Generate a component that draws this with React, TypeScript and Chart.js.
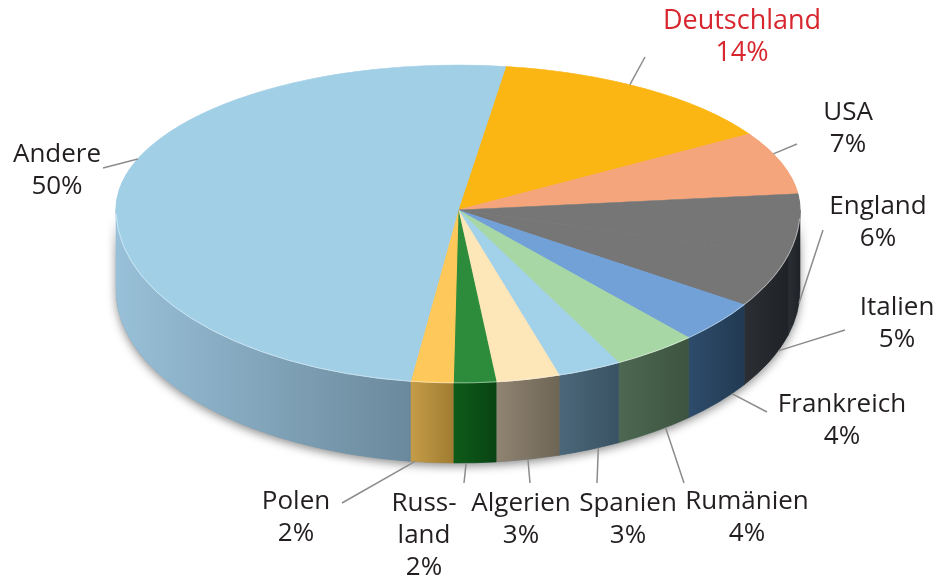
import React, { useEffect, useRef } from 'react';
import { Chart, registerables } from 'chart.js';

Chart.register(...registerables);

// ---------- data ----------
const categories = ['Deutschland', 'USA', 'England', 'Italien', 'Frankreich', 'Rumänien', 'Spanien', 'Algerien', 'Russland', 'Polen', 'Andere'];
const nameLines = [['Deutschland'], ['USA'], ['England'], ['Italien'], ['Frankreich'], ['Rumänien'], ['Spanien'], ['Algerien'], ['Russ-', 'land'], ['Polen'], ['Andere']];
const shares = [14, 7, 6, 5, 4, 4, 3, 3, 2, 2, 50];

// ---------- styles ----------
const topColors = ['#fbb614', '#f5a57b', '#767676', '#767676', '#72a1d8', '#a8d7a6', '#a2d1ea', '#fde6b8', '#2d8c3c', '#fec95a', '#a1cfe6'];
const sideLight = ['#b07e10', '#b0725a', '#2b2f34', '#2b2f34', '#2e4c6c', '#4d6852', '#4b6779', '#908472', '#0e5c19', '#c69c47', '#98c0d8'];
const sideDark = ['#8a630c', '#8a5846', '#1f2226', '#1f2226', '#223a52', '#3c5440', '#3a5364', '#6e6555', '#094313', '#a07d32', '#6b899c'];
const labelColors = ['#d7262e', '#231f20', '#231f20', '#231f20', '#231f20', '#231f20', '#231f20', '#231f20', '#231f20', '#231f20', '#231f20'];

// ---------- layout ----------
const W = 938;
const H = 583;
const PIE = { cx: 458, cy: 210, rx: 342, ryTop: 145, ryBottom: 173, depth: 80 };
const ROTATION = 8;
const LINE_H = 32;
// text centre (first line) and leader-line end, plus where along the slice the leader starts
const labelLayout = [
  { x: 742, y: 21, ex: 645, ey: 57, f: 0.44, size: 27 },
  { x: 848, y: 113, ex: 797, ey: 144, f: 0.35, size: 26 },
  { x: 878, y: 207, ex: 823, ey: 230, f: 0.5, size: 26 },
  { x: 897, y: 308, ex: 845, ey: 330, f: 0.3, size: 26 },
  { x: 842, y: 405, ex: 767, ey: 412, f: 0.25, size: 26 },
  { x: 747, y: 502, ex: 684, ey: 483, f: 0.35, size: 26 },
  { x: 628, y: 504, ex: 597, ey: 483, f: 0.35, size: 26 },
  { x: 521, y: 504, ex: 530, ey: 483, f: 0.5, size: 26 },
  { x: 424, y: 504, ex: 464, ey: 483, f: 0.7, size: 26 },
  { x: 296, y: 502, ex: 342, ey: 503, f: 0.9, size: 26 },
  { x: 57, y: 155, ex: 103, ey: 168, f: 0.57, size: 26 },
];

const FONT = '"Open Sans", "Noto Sans", sans-serif';

const pie3d = {
  id: 'pie3d',
  beforeDatasetsDraw(chart: any) {
    const ctx: CanvasRenderingContext2D = chart.ctx;
    const meta = chart.getDatasetMeta(0);
    const arcs = meta.data;
    const { cx, cy, rx, ryBottom, ryTop, depth } = PIE;

    // shadow silhouette of the side wall
    ctx.save();
    ctx.beginPath();
    ctx.ellipse(cx, cy, rx, ryBottom, 0, 0, Math.PI, false);
    ctx.ellipse(cx, cy + depth, rx, ryBottom, 0, Math.PI, 0, true);
    ctx.closePath();
    ctx.shadowColor = 'rgba(0,0,0,0.45)';
    ctx.shadowBlur = 10;
    ctx.shadowOffsetY = 3;
    ctx.fillStyle = '#6b899c';
    ctx.fill();
    ctx.restore();

    // side walls of each slice
    arcs.forEach((arc: any, i: number) => {
      const { startAngle, endAngle } = arc.getProps(['startAngle', 'endAngle'], true);
      const a = Math.max(startAngle, 0);
      const b = Math.min(endAngle, Math.PI);
      if (b <= a) return;
      ctx.save();
      ctx.beginPath();
      ctx.ellipse(cx, cy, rx, ryBottom, 0, a, b, false);
      ctx.ellipse(cx, cy + depth, rx, ryBottom, 0, b, a, true);
      ctx.closePath();
      const x1 = cx + rx * Math.cos(a);
      const x2 = cx + rx * Math.cos(b);
      const g = ctx.createLinearGradient(Math.min(x1, x2), 0, Math.max(x1, x2) + 0.01, 0);
      g.addColorStop(0, sideLight[i]);
      g.addColorStop(1, sideDark[i]);
      ctx.fillStyle = g;
      ctx.fill();
      ctx.strokeStyle = g;
      ctx.lineWidth = 0.6;
      ctx.stroke();
      ctx.restore();
    });

    // top face, upper half
    const { x, y, outerRadius } = arcs[0].getProps(['x', 'y', 'outerRadius'], true);
    const sx = rx / outerRadius;
    const sy = ryTop / outerRadius;
    ctx.save();
    ctx.beginPath();
    ctx.rect(0, 0, W, cy);
    ctx.clip();
    ctx.transform(sx, 0, 0, sy, cx - x * sx, cy - y * sy);
  },
  afterDatasetsDraw(chart: any) {
    const ctx: CanvasRenderingContext2D = chart.ctx;
    ctx.restore();
    const meta = chart.getDatasetMeta(0);
    const arcs = meta.data;
    const { cx, cy, rx, ryBottom, ryTop, depth } = PIE;
    const { x, y, outerRadius } = arcs[0].getProps(['x', 'y', 'outerRadius'], true);

    // top face, lower half
    const sx = rx / outerRadius;
    const sy = ryBottom / outerRadius;
    ctx.save();
    ctx.beginPath();
    ctx.rect(0, cy, W, H - cy);
    ctx.clip();
    ctx.transform(sx, 0, 0, sy, cx - x * sx, cy - y * sy);
    meta.controller.draw();
    ctx.restore();

    // rim highlight
    ctx.save();
    ctx.beginPath();
    ctx.ellipse(cx, cy, rx, ryBottom, 0, 0.05, Math.PI - 0.02, false);
    ctx.strokeStyle = 'rgba(255,255,255,0.45)';
    ctx.lineWidth = 1;
    ctx.stroke();
    ctx.restore();

    // leader lines and labels
    arcs.forEach((arc: any, i: number) => {
      const { startAngle, endAngle } = arc.getProps(['startAngle', 'endAngle'], true);
      const L = labelLayout[i];
      const m = startAngle + (endAngle - startAngle) * L.f;
      const s = Math.sin(m);
      const px = cx + rx * Math.cos(m);
      const py = s >= 0 ? cy + ryBottom * s + depth : cy + ryTop * s;
      ctx.save();
      ctx.beginPath();
      ctx.moveTo(px, py);
      ctx.lineTo(L.ex, L.ey);
      ctx.strokeStyle = '#8c8c8c';
      ctx.lineWidth = 1.5;
      ctx.stroke();
      ctx.restore();

      const lines = [...nameLines[i], `${shares[i]}%`];
      ctx.save();
      ctx.fillStyle = labelColors[i];
      ctx.font = `${L.size}px ${FONT}`;
      ctx.textAlign = 'center';
      ctx.textBaseline = 'middle';
      lines.forEach((t, k) => ctx.fillText(t, L.x, L.y + k * LINE_H));
      ctx.restore();
    });
  },
};

export default function App() {
  const ref = useRef<HTMLCanvasElement | null>(null);
  useEffect(() => {
    document.body.style.margin = '0';
    const canvas = ref.current;
    if (!canvas) return;
    const chart = new Chart(canvas, {
      type: 'pie',
      data: {
        labels: categories,
        datasets: [
          {
            data: shares,
            backgroundColor: topColors,
            borderColor: topColors,
            borderWidth: 1,
          },
        ],
      },
      options: {
        responsive: false,
        animation: false,
        events: [],
        rotation: ROTATION,
        layout: { padding: 0 },
        plugins: {
          legend: { display: false },
          tooltip: { enabled: false },
        },
      },
      plugins: [pie3d],
    });
    return () => chart.destroy();
  }, []);
  return (
    <div style={{ width: W, height: H, background: '#ffffff' }}>
      <canvas ref={ref} width={W} height={H} style={{ display: 'block' }} />
    </div>
  );
}
